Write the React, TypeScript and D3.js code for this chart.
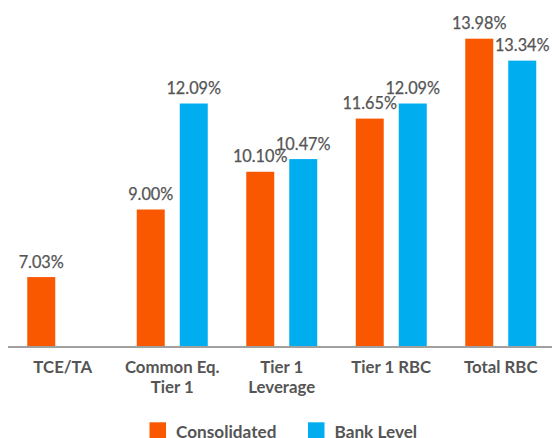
import React from "react";
import * as d3 from "d3";

const categories = [["TCE/TA"], ["Common Eq.", "Tier 1"], ["Tier 1", "Leverage"], ["Tier 1 RBC"], ["Total RBC"]];
const seriesNames = ["Consolidated", "Bank Level"];
const consolidated: (number | null)[] = [7.03, 9.0, 10.1, 11.65, 13.98];
const bankLevel: (number | null)[] = [null, 12.09, 10.47, 12.09, 13.34];
const colors = ["#FA5800", "#00AEEF"];

const W = 552;
const H = 438;

export default function App() {
  const x = d3.scaleBand<number>().domain(d3.range(categories.length)).range([8, 555.5]).paddingInner(0).paddingOuter(0);
  const half = x.bandwidth() / 2;
  const inner = d3.scaleBand<number>().domain([0, 1]).range([half - 35.5, half + 35.5]).paddingInner(0.349).paddingOuter(0);
  const y = d3.scaleLinear().domain([5, 15]).range([346.7, 3.7]);
  const series = [consolidated, bankLevel];
  const textColor = "#555555";

  return (
    <svg width={W} height={H} style={{ position: "absolute", left: 0, top: 0 }} fontFamily="Lato, sans-serif">
      {series.map((vals, si) =>
        vals.map((v, i) => {
          if (v == null) return null;
          const bx = (x(i) as number) + (inner(si) as number);
          const bw = inner.bandwidth();
          return (
            <g key={`${si}-${i}`}>
              <rect x={bx} y={y(v)} width={bw} height={y.range()[0] - y(v)} fill={colors[si]} />
              <text x={bx + bw / 2} y={y(v) - 9.5} textAnchor="middle" fontSize={16.3} fill={textColor} stroke={textColor} strokeWidth={0.25}>
                {v.toFixed(2)}%
              </text>
            </g>
          );
        })
      )}
      <line x1={8} x2={W} y1={347} y2={347} stroke="#a0a0a0" strokeWidth={2} />
      {categories.map((lines, i) => (
        <text key={i} textAnchor="middle" fontSize={16.8} fontWeight={700} fill={textColor}>
          {lines.map((l, j) => (
            <tspan key={j} x={(x(i) as number) + x.bandwidth() / 2} y={372.5 + j * 20.6}>
              {l}
            </tspan>
          ))}
        </text>
      ))}
      {seriesNames.map((name, si) => {
        const lx = si === 0 ? 149.5 : 308;
        return (
          <g key={name}>
            <rect x={lx} y={422.3} width={16.5} height={16.5} fill={colors[si]} />
            <text x={lx + 26.5} y={438} fontSize={17.2} fontWeight={700} fill={textColor}>
              {name}
            </text>
          </g>
        );
      })}
    </svg>
  );
}
